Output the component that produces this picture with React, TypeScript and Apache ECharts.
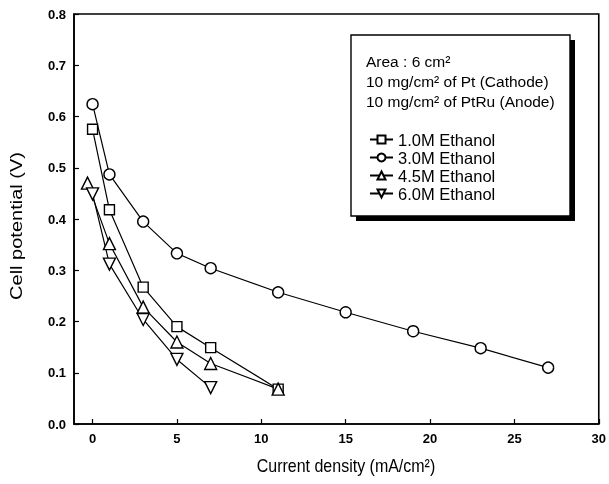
import React, { useEffect, useRef } from "react";
import * as echarts from "echarts";

const xTicks = [0, 5, 10, 15, 20, 25, 30];
const ethanol10X = [0, 1, 3, 5, 7, 11];
const ethanol10Y = [0.575, 0.418, 0.267, 0.19, 0.149, 0.068];
const ethanol30X = [0, 1, 3, 5, 7, 11, 15, 19, 23, 27];
const ethanol30Y = [0.624, 0.487, 0.395, 0.333, 0.304, 0.257, 0.218, 0.181, 0.148, 0.11];
const ethanol45X = [-0.3, 1, 3, 5, 7, 11];
const ethanol45Y = [0.47, 0.352, 0.228, 0.16, 0.118, 0.068];
const ethanol60X = [0, 1, 3, 5, 7];
const ethanol60Y = [0.449, 0.312, 0.204, 0.126, 0.071];
const seriesNames = ["1.0M Ethanol", "3.0M Ethanol", "4.5M Ethanol", "6.0M Ethanol"];
const infoLines = ["Area : 6 cm²", "10 mg/cm² of Pt (Cathode)", "10 mg/cm² of PtRu (Anode)"];
const xTitle = "Current density (mA/cm²)";
const yTitle = "Cell potential (V)";

const FONT = "Liberation Sans, Arial, Helvetica, sans-serif";

function pairs(xs: number[], ys: number[]) {
  return xs.map((x, i) => [x, ys[i]]);
}

export default function App() {
  const ref = useRef<HTMLDivElement>(null);
  useEffect(() => {
    if (!ref.current) return;
    const chart = echarts.init(ref.current, undefined, { renderer: "svg" });
    const markerStyle = { color: "#fff", borderColor: "#000", borderWidth: 1.4 };
    const lineStyle = { color: "#000", width: 1.2 };
    const mk = (name: string, data: number[][], symbol: string, size: number, rotate = 0) => ({
      name,
      type: "line",
      data,
      symbol,
      symbolSize: size,
      symbolRotate: rotate,
      showAllSymbol: true,
      itemStyle: markerStyle,
      lineStyle,
      z: 3,
    });
    chart.setOption({
      animation: false,
      textStyle: { fontFamily: FONT },
      grid: {
        left: 74,
        right: 7,
        top: 14,
        bottom: 60,
        show: true,
        borderColor: "#000",
        borderWidth: 1.6,
        backgroundColor: "transparent",
      },
      xAxis: {
        type: "value",
        min: -1.1,
        max: 30,
        axisLine: { show: true, onZero: false, lineStyle: { color: "#000", width: 1.6 } },
        axisTick: { show: true, inside: true, length: 5, customValues: xTicks, lineStyle: { color: "#000", width: 1.2 } },
        axisLabel: { customValues: xTicks, color: "#000", fontSize: 13, fontWeight: "bold", margin: 8, fontFamily: FONT },
        splitLine: { show: false },
      },
      yAxis: {
        type: "value",
        min: 0,
        max: 0.8,
        interval: 0.1,
        axisLine: { show: true, onZero: false, lineStyle: { color: "#000", width: 1.6 } },
        axisTick: { show: true, inside: true, length: 5, lineStyle: { color: "#000", width: 1.2 } },
        axisLabel: {
          color: "#000",
          fontSize: 13,
          fontWeight: "bold",
          margin: 8,
          fontFamily: FONT,
          formatter: (v: number) => v.toFixed(1),
        },
        splitLine: { show: false },
      },
      legend: {
        orient: "vertical",
        left: 364,
        top: 126,
        itemWidth: 23,
        itemHeight: 10,
        itemGap: 1,
        textStyle: { fontSize: 16.5, color: "#000", fontFamily: FONT },
        data: seriesNames,
      },
      graphic: [
        { type: "rect", shape: { x: 356, y: 40, width: 219, height: 181 }, style: { fill: "#000" }, z: 0 },
        {
          type: "rect",
          shape: { x: 351, y: 35, width: 219, height: 181 },
          style: { fill: "#fff", stroke: "#000", lineWidth: 1.4 },
          z: 1,
        },
        ...infoLines.map((t, i) => ({
          type: "text",
          x: 366,
          y: 61 + i * 20,
          z: 2,
          style: { text: t, fill: "#000", fontSize: 15.5, fontFamily: FONT, verticalAlign: "middle" },
        })),
        {
          type: "text",
          x: 346,
          y: 465,
          scaleY: 1.2,
          z: 2,
          style: { text: xTitle, fill: "#000", fontSize: 16, fontFamily: FONT, align: "center", verticalAlign: "middle" },
        },
        {
          type: "text",
          x: 17,
          y: 226,
          rotation: Math.PI / 2,
          scaleX: 1.25,
          z: 2,
          style: { text: yTitle, fill: "#000", fontSize: 16, fontFamily: FONT, align: "center", verticalAlign: "middle" },
        },
      ],
      series: [
        mk(seriesNames[0], pairs(ethanol10X, ethanol10Y), "rect", 10),
        mk(seriesNames[1], pairs(ethanol30X, ethanol30Y), "circle", 11),
        mk(seriesNames[2], pairs(ethanol45X, ethanol45Y), "triangle", 12),
        mk(seriesNames[3], pairs(ethanol60X, ethanol60Y), "triangle", 12, 180),
      ],
    });
    return () => chart.dispose();
  }, []);
  return <div ref={ref} style={{ position: "fixed", left: 0, top: 0, width: 609, height: 484 }} />;
}
